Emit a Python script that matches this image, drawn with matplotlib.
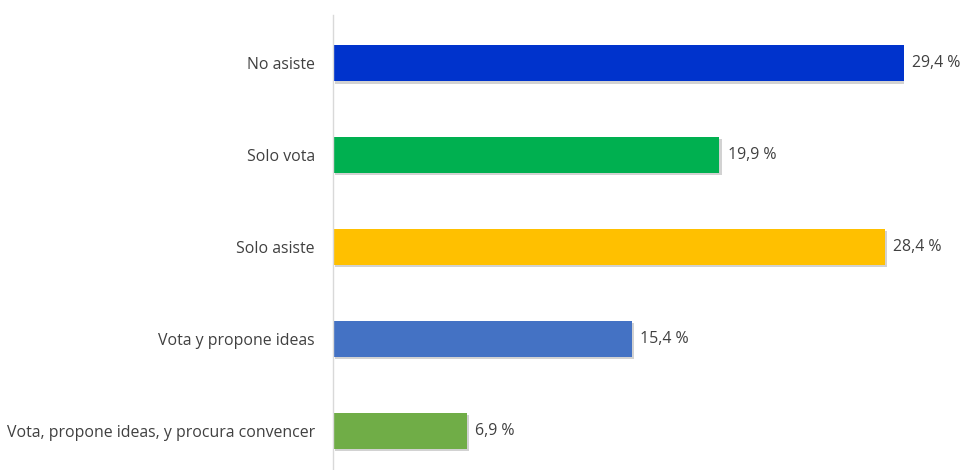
import matplotlib.pyplot as plt
import matplotlib.patheffects as pe

categorias = ['No asiste', 'Solo vota', 'Solo asiste', 'Vota y propone ideas',
              'Vota, propone ideas, y procura convencer']
valores = [29.4, 19.9, 28.4, 15.4, 6.9]
colores = ['#0033CC', '#00B050', '#FFC000', '#4472C4', '#70AD47']

plt.rcParams['font.family'] = ['Open Sans', 'DejaVu Sans']

fig = plt.figure(figsize=(9.64, 4.70), dpi=100)
ax = fig.add_axes([333 / 964, 0, (904 - 333) / 964, 455 / 470])

pos = list(range(len(categorias)))
sombra = [pe.SimplePatchShadow(offset=(1.5, -1.5), alpha=0.35, shadow_rgbFace='#808080'),
          pe.Normal()]
barras = ax.barh(pos, valores, height=0.40, color=colores)
for b in barras:
    b.set_path_effects(sombra)

for y, v in zip(pos, valores):
    ax.annotate(f'{v:.1f} %'.replace('.', ','), (v, y), xytext=(6, 0),
                textcoords='offset points', va='center', ha='left',
                fontsize=11.4, color='#404040', annotation_clip=False)

ax.set_xlim(0, max(valores))
ax.set_ylim(4.424, -0.522)
ax.set_yticks(pos)
ax.set_yticklabels(categorias, fontsize=11.4, color='#404040')
ax.tick_params(axis='y', length=0, pad=13)
ax.set_xticks([])
for lado in ['top', 'right', 'bottom']:
    ax.spines[lado].set_visible(False)
ax.spines['left'].set_color('#D9D9D9')
ax.spines['left'].set_linewidth(1)

fig.savefig('out.png', dpi=100)
